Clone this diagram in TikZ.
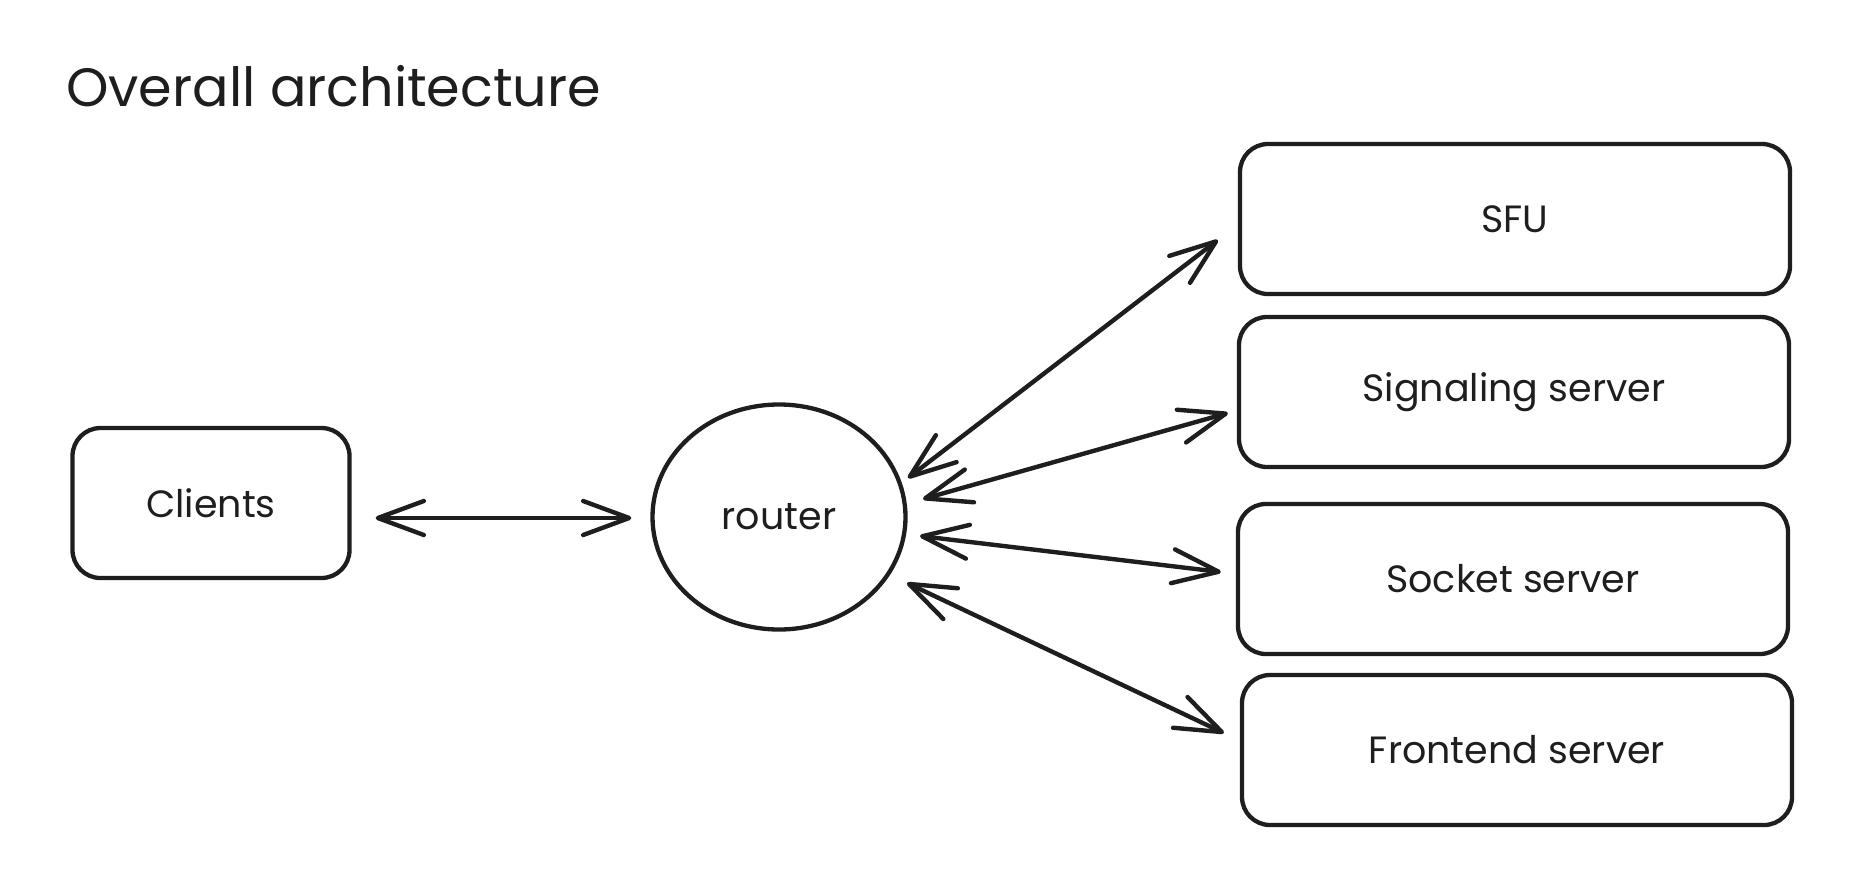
\documentclass[tikz,border=0pt]{standalone}
\usepackage{fontspec}
\setmainfont{Poppins}
\usetikzlibrary{arrows.meta,calc,shapes.geometric}
\definecolor{ink}{HTML}{1E1E1E}
\begin{document}
\begin{tikzpicture}[x=1pt,y=-1pt,
  box/.style={draw=ink, line width=4.3pt, rounded corners=28pt, minimum width=550pt, minimum height=150pt, inner sep=0pt, text=ink, font=\fontsize{38}{44}\selectfont},
  smallbox/.style={box, minimum width=277pt},
  hub/.style={ellipse, draw=ink, line width=4.3pt, minimum width=253pt, minimum height=225pt, inner sep=0pt, text=ink, font=\fontsize{38}{44}\selectfont},
  barb/.tip={Straight Barb[length=46pt,width=34pt,line cap=round,line join=round]},
  arr/.style={draw=ink, line width=4.4pt, line cap=round, barb-barb},
  titletext/.style={anchor=west, text=ink, inner sep=0pt, font=\fontsize{54}{64}\selectfont}
]
\useasboundingbox (0,0) rectangle (1854,892);
\node[titletext] (title) at (66,86) {Overall architecture};
\node[smallbox] (clients) at (211,503) {Clients};
\node[hub] (router) at (779,517) {router};
\node[box] (sfu) at (1515,219) {SFU};
\node[box] (sig) at (1514,392) {Signaling server};
\node[box] (sock) at (1513,579) {Socket server};
\node[box] (front) at (1517,750) {Frontend server};
\draw[arr] ([shift={(24,15)}]clients.east) -- ([shift={(-19,1)}]router.west);
\draw[arr] ([shift={(129,-39)}]router.center) -- ([shift={(-20,21)}]sfu.west);
\draw[arr] ([shift={(144,-18)}]router.center) -- ([shift={(-9,21)}]sig.west);
\draw[arr] ([shift={(141,19)}]router.center) -- ([shift={(-15,-7)}]sock.west);
\draw[arr] ([shift={(128,66)}]router.center) -- ([shift={(-16,-17)}]front.west);
\end{tikzpicture}
\end{document}
